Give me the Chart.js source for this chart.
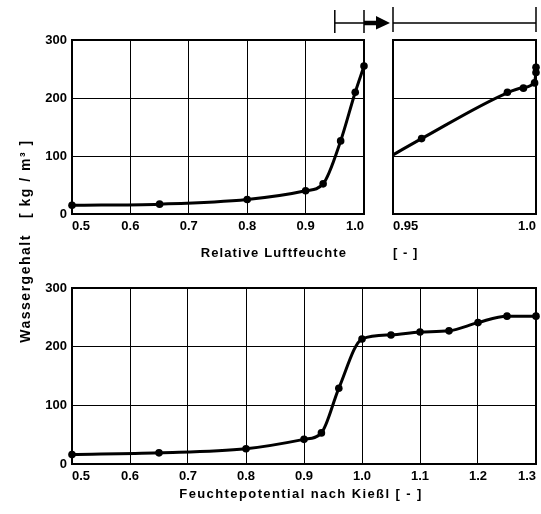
<!DOCTYPE html>
<html><head><meta charset="utf-8">
<script src="https://cdn.jsdelivr.net/npm/chart.js@4.4.1/dist/chart.umd.min.js"></script>
<style>
html,body{margin:0;padding:0;background:#fff;}
#wrap{position:relative;width:541px;height:514px;overflow:hidden;}
#wrap canvas{position:absolute;left:0;top:0;}
</style></head><body>
<div id="wrap">
<canvas id="c1" width="541" height="514"></canvas>
<canvas id="c2" width="541" height="514"></canvas>
<canvas id="c3" width="541" height="514"></canvas>
</div>
<script>
// ---- data ----
const rhX = [0.5, 0.65, 0.8, 0.9, 0.93, 0.96, 0.985, 1.0];
const rhY = [15, 17, 25, 40, 52, 126, 210, 255];

const zoomX = [0.96, 0.99, 0.9956, 0.9995, 1.0, 1.0];
const zoomY = [130, 210, 217, 226, 244, 253];
const zoomCurveX = [0.95, 0.96, 0.99, 0.9956, 0.9995, 1.0];
const zoomCurveY = [102, 130, 209, 218, 228, 244];

const kX = [0.5, 0.65, 0.8, 0.9, 0.93, 0.96, 1.0, 1.05, 1.1, 1.15, 1.2, 1.25, 1.3];
const kY = [16, 19, 26, 42, 53, 129, 213, 220, 225, 227, 241, 252, 252];

const yTicks = [0, 100, 200, 300];
const yTickLabels = ['0', '100', '200', '300'];
const rhTicks = [0.5, 0.6, 0.7, 0.8, 0.9, 1.0];
const rhTickLabels = ['0.5', '0.6', '0.7', '0.8', '0.9', '1.0'];
const zoomTicks = [0.95, 1.0];
const zoomTickLabels = ['0.95', '1.0'];
const kTicks = [0.5, 0.6, 0.7, 0.8, 0.9, 1.0, 1.1, 1.2, 1.3];
const kTickLabels = ['0.5', '0.6', '0.7', '0.8', '0.9', '1.0', '1.1', '1.2', '1.3'];

const titleRH = 'Relative Luftfeuchte';
const titleUnit = '[ - ]';
const titleK = 'Feuchtepotential nach Kießl [ - ]';
const titleY = 'Wassergehalt   [ kg / m³ ]';

// ---- helpers ----
const FONT = "'Liberation Sans', Arial, sans-serif";
Chart.defaults.font.family = FONT;
Chart.defaults.color = '#000';

function pts(xs, ys) { return xs.map((x, i) => ({ x: x, y: ys[i] })); }

const framePlugin = {
  id: 'frame',
  beforeDatasetsDraw(chart) {
    const a = chart.chartArea, c = chart.ctx;
    c.save(); c.strokeStyle = '#000'; c.lineWidth = 2;
    c.strokeRect(a.left, a.top, a.right - a.left, a.bottom - a.top);
    c.restore();
  }
};

function spacedText(ctx, text, x, y, align, font, spacing, rot) {
  ctx.save();
  ctx.font = font; ctx.fillStyle = '#000';
  ctx.letterSpacing = spacing;
  ctx.textAlign = align; ctx.textBaseline = 'middle';
  ctx.translate(x, y);
  if (rot) ctx.rotate(rot);
  ctx.fillText(text, 0, 0);
  ctx.restore();
}

function xAxis(min, max, ticks, labels, grid, h) {
  return {
    type: 'linear', min: min, max: max,
    afterBuildTicks: s => { s.ticks = ticks.map(v => ({ value: v })); },
    afterFit: s => { s.height = h; },
    ticks: { callback: (v, i) => labels[i], align: 'inner', padding: 5, maxRotation: 0, autoSkip: false,
             font: { size: 13, weight: 'bold' }, color: '#000' },
    grid: { display: grid, color: '#000', lineWidth: 1, drawTicks: false },
    border: { display: false }
  };
}
function yAxis(showLabels, w) {
  return {
    type: 'linear', min: 0, max: 300,
    afterBuildTicks: s => { s.ticks = yTicks.map(v => ({ value: v })); },
    afterFit: s => { s.width = w; },
    ticks: { display: showLabels, callback: (v, i) => yTickLabels[i], padding: 5,
             font: { size: 13, weight: 'bold' }, color: '#000' },
    grid: { color: '#000', lineWidth: 1, drawTicks: false },
    border: { display: false }
  };
}
function datasets(curveX, curveY, markX, markY) {
  return [
    { data: pts(curveX, curveY), showLine: true, borderColor: '#000', borderWidth: 3,
      pointRadius: 0, cubicInterpolationMode: 'monotone', clip: false, order: 2 },
    { data: pts(markX, markY), showLine: false, pointRadius: 3.8, pointBackgroundColor: '#000',
      pointBorderColor: '#000', pointBorderWidth: 0, clip: false, order: 1 }
  ];
}
function baseOptions(padding, xs, ys) {
  return {
    responsive: false, animation: false, devicePixelRatio: 1,
    layout: { padding: padding },
    plugins: { legend: { display: false }, tooltip: { enabled: false } },
    events: [],
    scales: { x: xs, y: ys }
  };
}

// ---- chart 1 : relative humidity 0.5 .. 1.0 ----
new Chart(document.getElementById('c1'), {
  type: 'scatter',
  data: { datasets: datasets(rhX, rhY, rhX, rhY) },
  options: baseOptions({ left: 32, right: 177, top: 40, bottom: 270 },
    xAxis(0.5, 1.0, rhTicks, rhTickLabels, true, 30), yAxis(true, 40)),
  plugins: [framePlugin, {
    id: 'c1extra',
    afterDraw(chart) {
      const c = chart.ctx, a = chart.chartArea, xs = chart.scales.x;
      const x1 = xs.getPixelForValue(0.95), x2 = xs.getPixelForValue(1.0);
      c.save(); c.strokeStyle = '#000'; c.fillStyle = '#000'; c.lineWidth = 1.5;
      c.beginPath();
      c.moveTo(x1, 23); c.lineTo(x2, 23);
      c.moveTo(x1, 10); c.lineTo(x1, 33);
      c.moveTo(x2, 10); c.lineTo(x2, 33);
      c.stroke();
      // arrow
      c.lineWidth = 4.5;
      c.beginPath(); c.moveTo(x2, 23); c.lineTo(x2 + 13, 23); c.stroke();
      c.beginPath(); c.moveTo(x2 + 12, 16); c.lineTo(x2 + 26, 23); c.lineTo(x2 + 12, 29.5); c.closePath(); c.fill();
      c.restore();
      spacedText(c, titleRH, a.right - 17, a.bottom + 39, 'right', 'bold 13px ' + FONT, '1.1px');
    }
  }]
});

// ---- chart 2 : zoom 0.95 .. 1.0 ----
new Chart(document.getElementById('c2'), {
  type: 'scatter',
  data: { datasets: datasets(zoomCurveX, zoomCurveY, zoomX, zoomY) },
  options: baseOptions({ left: 392, right: 3, top: 40, bottom: 270 },
    xAxis(0.95, 1.0, zoomTicks, zoomTickLabels, false, 30), yAxis(false, 1)),
  plugins: [framePlugin, {
    id: 'c2extra',
    afterDraw(chart) {
      const c = chart.ctx, a = chart.chartArea;
      c.save(); c.strokeStyle = '#000'; c.lineWidth = 1.5;
      c.beginPath();
      c.moveTo(a.left, 23); c.lineTo(a.right, 23);
      c.moveTo(a.left, 7); c.lineTo(a.left, 32);
      c.moveTo(a.right, 7); c.lineTo(a.right, 32);
      c.stroke(); c.restore();
      spacedText(c, titleUnit, a.left, a.bottom + 39, 'left', 'bold 13px ' + FONT, '1px');
    }
  }]
});

// ---- chart 3 : moisture potential after Kießl ----
new Chart(document.getElementById('c3'), {
  type: 'scatter',
  data: { datasets: datasets(kX, kY, kX, kY) },
  options: baseOptions({ left: 32, right: 3, top: 288, bottom: 20 },
    xAxis(0.5, 1.3, kTicks, kTickLabels, true, 30), yAxis(true, 40)),
  plugins: [framePlugin, {
    id: 'c3extra',
    afterDraw(chart) {
      const c = chart.ctx, a = chart.chartArea;
      spacedText(c, titleK, (a.left + a.right) / 2 - 3, a.bottom + 30, 'center', 'bold 13px ' + FONT, '1.4px');
      spacedText(c, titleY, a.left - 46, a.top - 47, 'center', 'bold 14px ' + FONT, '1.5px', -Math.PI / 2);
    }
  }]
});
</script>
</body></html>
